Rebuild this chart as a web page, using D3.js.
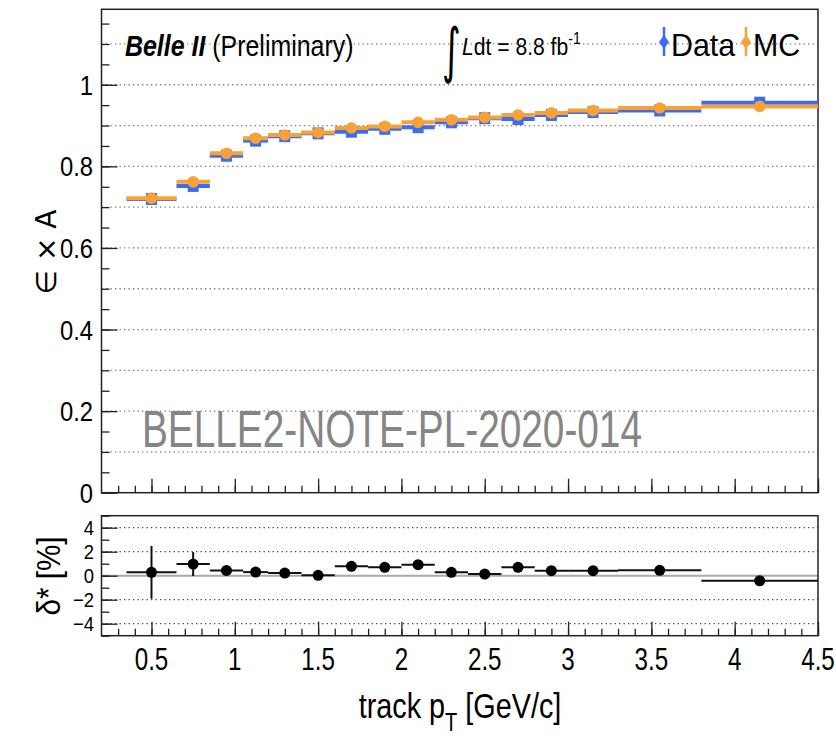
<!DOCTYPE html>
<meta charset="utf-8">
<script src="https://d3js.org/d3.v7.min.js"></script>
<style>
  body { margin: 0; background: #fff; }
  text { font-family: "Liberation Sans", Arial, sans-serif; }
</style>
<div id="chart"></div>
<script>

    // bins in track pT [GeV/c]
    var binLow  = [0.35, 0.65, 0.85, 1.05, 1.2, 1.4, 1.6, 1.8, 2.0, 2.2, 2.4, 2.6, 2.8, 3.0, 3.3, 3.8]
    var binHigh = [0.65, 0.85, 1.05, 1.2, 1.4, 1.6, 1.8, 2.0, 2.2, 2.4, 2.6, 2.8, 3.0, 3.3, 3.8, 4.5]
    var binMean = [0.5, 0.75, 0.95, 1.125, 1.3, 1.5, 1.7, 1.9, 2.1, 2.3, 2.5, 2.7, 2.9, 3.15, 3.55, 4.15]

    // efficiency x acceptance
    var effData = [0.720, 0.752, 0.826, 0.863, 0.874, 0.881, 0.885, 0.892, 0.896, 0.908, 0.918, 0.916, 0.926, 0.933, 0.937, 0.956]
    var effMC   = [0.722, 0.762, 0.832, 0.869, 0.877, 0.883, 0.894, 0.898, 0.908, 0.914, 0.920, 0.926, 0.931, 0.937, 0.943, 0.947]

    // delta* [%] and its error
    var delta    = [0.28, 0.97, 0.44, 0.30, 0.22, 0.03, 0.78, 0.70, 0.92, 0.28, 0.14, 0.70, 0.42, 0.42, 0.45, -0.42]
    var deltaErr = [2.2, 1.0, 0.3, 0.2, 0.2, 0.2, 0.2, 0.2, 0.2, 0.2, 0.2, 0.2, 0.2, 0.2, 0.2, 0.3]

    var xTicks = [0.5, 1, 1.5, 2, 2.5, 3, 3.5, 4, 4.5]
    var yTopTicks = [0, 0.2, 0.4, 0.6, 0.8, 1]
    var yBotTicks = [-4, -2, 0, 2, 4]

    var blue = "#3a6cf4", orange = "#f8a236", frameCol = "#222"

    var svg = d3.select("#chart").append("svg")
        .attr("width", 836)
        .attr("height", 736)

    // frame positions
    var left = 101.5, right = 818
    var topT = 9.3, botT = 492.7
    var topB = 515.7, botB = 635.7

    var x = d3.scaleLinear().domain([0.2, 4.5]).range([left, right])
    var yT = d3.scaleLinear().domain([0, 1.185]).range([botT, topT])
    var yB = d3.scaleLinear().domain([-5, 5]).range([botB, topB])

    var bins = binMean.map(function(m, i) {
        return {lo: binLow[i], hi: binHigh[i], m: m, d: effData[i], mc: effMC[i], r: delta[i], re: deltaErr[i]}
    })

    // narrow looking text (the original is squeezed sideways)
    function ctext(parent, px, py, sx, size, anchor, rot) {
        return parent.append("text")
            .attr("transform", "translate(" + px + "," + py + ")" + (rot ? " rotate(" + rot + ")" : "") + " scale(" + sx + ",1)")
            .attr("text-anchor", anchor || "start")
            .style("font-size", size + "px")
    }

    //grid lines (dotted)
    svg.append("g").selectAll("line")
        .data(d3.range(1, 12).map(function(i) { return i / 10 }))
        .enter().append("line")
            .attr("x1", left).attr("x2", right)
            .attr("y1", function(d) { return yT(d) })
            .attr("y2", function(d) { return yT(d) })
            .attr("stroke", "#777")
            .attr("stroke-width", 1.3)
            .attr("stroke-dasharray", "1.3,3.2")

    svg.append("g").selectAll("line")
        .data([-4, -2, 2, 4])
        .enter().append("line")
            .attr("x1", left).attr("x2", right)
            .attr("y1", function(d) { return yB(d) })
            .attr("y2", function(d) { return yB(d) })
            .attr("stroke", "#444")
            .attr("stroke-width", 1.3)
            .attr("stroke-dasharray", "1.3,3.2")

    svg.append("line")
        .attr("x1", left).attr("x2", right)
        .attr("y1", yB(0)).attr("y2", yB(0))
        .attr("stroke", "#aaa")
        .attr("stroke-width", 2)

    // axes: ticks inside frame
    function tickAxis(g, axis) {
        g.call(axis)
        g.select(".domain").remove()
        g.selectAll(".tick line").attr("stroke", frameCol).attr("stroke-width", 1.3)
        return g
    }

    // top panel y axis
    tickAxis(svg.append("g").attr("transform", "translate(" + left + ",0)"),
        d3.axisRight(yT).tickValues(d3.range(0, 24).map(function(i) { return i * 0.05 })).tickSize(8).tickFormat(""))
    tickAxis(svg.append("g").attr("transform", "translate(" + left + ",0)"),
        d3.axisRight(yT).tickValues(yTopTicks).tickSize(16).tickFormat(""))
    yTopTicks.forEach(function(d) {
        ctext(svg, 93, yT(d) + 10, 0.85, 28, "end").text(d)
    })

    // x axis ticks on both panels
    var minorX = d3.range(3, 46).map(function(i) { return i / 10 })
    ;[botT, botB].forEach(function(yy) {
        tickAxis(svg.append("g").attr("transform", "translate(0," + yy + ")"),
            d3.axisTop(x).tickValues(minorX).tickSize(7).tickFormat(""))
        tickAxis(svg.append("g").attr("transform", "translate(0," + yy + ")"),
            d3.axisTop(x).tickValues(xTicks).tickSize(14).tickFormat(""))
    })

    xTicks.forEach(function(d) {
        ctext(svg, x(d), 670, 0.78, 31, "middle").text(d)
    })

    // bottom panel y axis
    tickAxis(svg.append("g").attr("transform", "translate(" + left + ",0)"),
        d3.axisRight(yB).tickValues(d3.range(-5, 6)).tickSize(8).tickFormat(""))
    tickAxis(svg.append("g").attr("transform", "translate(" + left + ",0)"),
        d3.axisRight(yB).tickValues(yBotTicks).tickSize(16).tickFormat(""))
    yBotTicks.forEach(function(d) {
        ctext(svg, 94, yB(d) + 7.5, 0.9, 20.5, "end").text(d < 0 ? "\u2212" + (-d) : d)
    })

    // frames
    svg.append("rect")
        .attr("x", left).attr("y", topT)
        .attr("width", right - left).attr("height", botT - topT)
        .attr("fill", "none").attr("stroke", frameCol).attr("stroke-width", 1.5)
    svg.append("rect")
        .attr("x", left).attr("y", topB)
        .attr("width", right - left).attr("height", botB - topB)
        .attr("fill", "none").attr("stroke", frameCol).attr("stroke-width", 1.5)

    // watermark
    svg.append("text")
        .attr("x", 142)
        .attr("y", 447)
        .attr("textLength", 500)
        .attr("lengthAdjust", "spacingAndGlyphs")
        .style("font-size", "51px")
        .style("fill", "#858585")
        .text("BELLE2-NOTE-PL-2020-014")

    // draw one series of the top panel
    function drawSeries(key, col, shape) {
        var g = svg.append("g")
        g.selectAll(".h").data(bins).enter().append("line")
            .attr("x1", function(d) { return x(d.lo) })
            .attr("x2", function(d) { return x(d.hi) })
            .attr("y1", function(d) { return yT(d[key]) })
            .attr("y2", function(d) { return yT(d[key]) })
            .attr("stroke", col).attr("stroke-width", 4)
        if (shape == "square") {
            g.selectAll(".m").data(bins).enter().append("rect")
                .attr("x", function(d) { return x(d.m) - 5.5 })
                .attr("y", function(d) { return yT(d[key]) - 6 })
                .attr("width", 11).attr("height", 12)
                .attr("fill", col)
        } else {
            g.selectAll(".m").data(bins).enter().append("circle")
                .attr("cx", function(d) { return x(d.m) })
                .attr("cy", function(d) { return yT(d[key]) })
                .attr("r", 5.8)
                .attr("fill", col)
        }
    }
    drawSeries("d", blue, "square")
    drawSeries("mc", orange, "circle")

    // ratio panel
    var gr = svg.append("g")
    gr.selectAll(".h").data(bins).enter().append("line")
        .attr("x1", function(d) { return x(d.lo) })
        .attr("x2", function(d) { return x(d.hi) })
        .attr("y1", function(d) { return yB(d.r) })
        .attr("y2", function(d) { return yB(d.r) })
        .attr("stroke", "#111").attr("stroke-width", 2)
    gr.selectAll(".v").data(bins).enter().append("line")
        .attr("x1", function(d) { return x(d.m) })
        .attr("x2", function(d) { return x(d.m) })
        .attr("y1", function(d) { return yB(d.r - d.re) })
        .attr("y2", function(d) { return yB(d.r + d.re) })
        .attr("stroke", "#111").attr("stroke-width", 2)
    gr.selectAll("circle").data(bins).enter().append("circle")
        .attr("cx", function(d) { return x(d.m) })
        .attr("cy", function(d) { return yB(d.r) })
        .attr("r", 5.5)
        .attr("fill", "#000")

    // axis titles
    ctext(svg, 56, 252, 1, 28, "middle", -90)
        .style("font-family", "DejaVu Sans")
        .text("\u2208 \u00d7 A")

    ctext(svg, 60, 576, 0.9, 33, "middle", -90)
        .text("\u03b4* [%]")

    var xl = ctext(svg, 460, 718, 0.8, 36, "middle")
    xl.append("tspan").text("track p")
    xl.append("tspan").attr("dy", 13).style("font-size", "25px").text("T")
    xl.append("tspan").attr("dy", -13).text(" [GeV/c]")

    // header texts
    var bl = ctext(svg, 125, 56, 0.86, 29, "start")
    bl.append("tspan").style("font-weight", "bold").style("font-style", "italic").text("Belle II")
    bl.append("tspan").text(" (Preliminary)")

    ctext(svg, 442, 71, 0.6, 60, "start")
        .style("font-family", "DejaVu Sans")
        .text("\u222b")
    var lum = ctext(svg, 462, 55, 0.88, 24, "start")
    lum.append("tspan").style("font-style", "italic").text("L")
    lum.append("tspan").text("dt = 8.8 fb")
    lum.append("tspan").attr("dy", -11).style("font-size", "16px").text("-1")

    // legend
    var legend = [{label: "Data", col: blue, x: 664}, {label: "MC", col: orange, x: 746}]
    legend.forEach(function(d) {
        svg.append("line")
            .attr("x1", d.x).attr("x2", d.x)
            .attr("y1", 27).attr("y2", 56)
            .attr("stroke", d.col).attr("stroke-width", 2.5)
        svg.append("path")
            .attr("d", "M" + (d.x - 5) + ",42 L" + d.x + ",35 L" + (d.x + 5) + ",42 L" + d.x + ",49 Z")
            .attr("fill", d.col)
        ctext(svg, d.x + 7, 56, 0.95, 32, "start").text(d.label)
    })

</script>
